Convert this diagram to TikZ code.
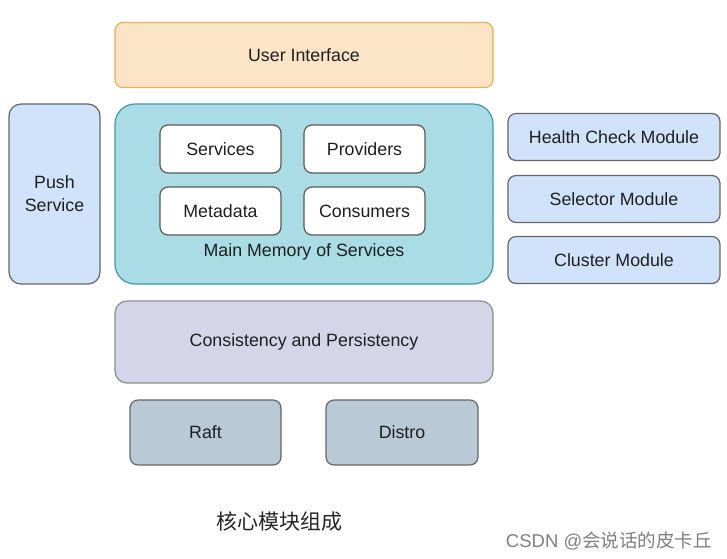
\documentclass[tikz,border=0pt]{standalone}
\usepackage{fontspec}
\setmainfont{Liberation Sans}
\newfontfamily\cjk{Noto Sans CJK SC}
\begin{document}
\begin{tikzpicture}[x=1pt,y=-1pt,
  box/.style={draw, line width=1.2pt, rounded corners=8pt, font=\fontsize{17.8}{23}\selectfont, text=black!88, align=center, inner sep=0pt},
  whitebox/.style={box, fill=white, draw=black!65},
  bluebox/.style={box, fill=bfill, draw=black!60},
  purplebox/.style={box, fill=pfill, draw=black!45},
  greybox/.style={box, fill=gfill, draw=black!60},
]
\definecolor{memfill}{HTML}{A9DCE5}
\definecolor{memdraw}{HTML}{3E98A6}
\definecolor{uifill}{HTML}{FCE4C6}
\definecolor{uidraw}{HTML}{E9B24C}
\definecolor{bfill}{HTML}{D0E3FA}
\definecolor{pfill}{HTML}{D6D4E9}
\definecolor{gfill}{HTML}{B9C9D5}
\useasboundingbox (0,0) rectangle (727,558);
\fill[white] (0,0) rectangle (727,558);
% User interface
\node[box, fill=uifill, draw=uidraw, minimum width=378pt, minimum height=65pt] (ui) at (304,55) {User Interface};
% Main memory
\node[box, fill=memfill, draw=memdraw, rounded corners=20pt, minimum width=378pt, minimum height=180pt] (mem) at (304,194) {};
\node[font=\fontsize{17.8}{21}\selectfont, text=black!88] (memlbl) at (304,252) {Main Memory of Services};
\node[whitebox, minimum width=121pt, minimum height=48pt] (svc) at (220.5,149) {Services};
\node[whitebox, minimum width=121pt, minimum height=48pt] (prov) at (364.5,149) {Providers};
\node[whitebox, minimum width=121pt, minimum height=48pt] (meta) at (220.5,211) {Metadata};
\node[whitebox, minimum width=121pt, minimum height=48pt] (cons) at (364.5,211) {Consumers};
% Push service
\node[bluebox, minimum width=91pt, minimum height=180pt, rounded corners=12pt] (push) at (54.5,194) {Push\\Service};
% Right modules
\node[bluebox, minimum width=212pt, minimum height=47pt] (hc) at (614,137) {Health Check Module};
\node[bluebox, minimum width=212pt, minimum height=47pt] (sel) at (614,199) {Selector Module};
\node[bluebox, minimum width=212pt, minimum height=47pt] (clu) at (614,260) {Cluster Module};
% Consistency
\node[purplebox, minimum width=378pt, minimum height=82pt, rounded corners=12pt] (cp) at (304,342) {Consistency and Persistency};
\node[greybox, minimum width=151pt, minimum height=65pt] (raft) at (205.5,432.5) {Raft};
\node[greybox, minimum width=152pt, minimum height=65pt] (distro) at (402,432.5) {Distro};
% Captions
\node[font=\cjk\fontsize{21}{23}\selectfont, text=black!85] (cap) at (279,522) {核心模块组成};
\node[font=\fontsize{18.5}{20}\selectfont, text=black!50, anchor=east, inner sep=0pt] (wm) at (712,541) {CSDN @{\cjk 会说话的皮卡丘}};
\end{tikzpicture}
\end{document}
